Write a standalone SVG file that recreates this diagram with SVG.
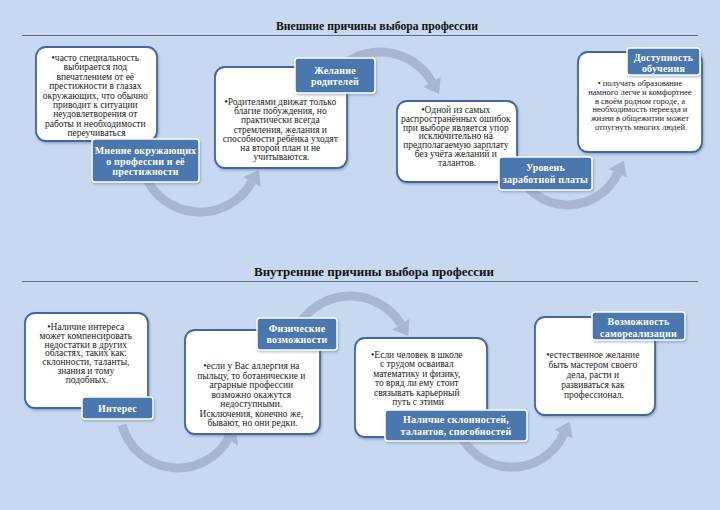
<svg xmlns="http://www.w3.org/2000/svg" width="720" height="510" viewBox="0 0 720 510">
<defs>
<style>
.bg{fill:#c6d9f1}
.title{font-family:"Liberation Serif","Times New Roman",serif;font-weight:bold;font-size:12px;fill:#111;text-anchor:middle}
.rule{stroke:#5a6c88;stroke-width:1.2}
.box{fill:#fff;stroke:#44669a;stroke-width:1.8}
.lab{fill:#4a77ae;stroke:#fff;stroke-width:1.5}
.body{font-family:"Liberation Serif","Times New Roman",serif;font-size:9.5px;fill:#1a1a1a;text-anchor:middle}
.small{font-size:8.5px}
.lt{font-family:"Liberation Serif","Times New Roman",serif;font-weight:bold;font-size:10px;letter-spacing:0.2px;fill:#fff;text-anchor:middle}
.arc{fill:none;stroke:#a8b7d1;stroke-width:9}
.head{fill:#a8b7d1}
</style>
<filter id="sh" x="-10%" y="-10%" width="130%" height="130%">
<feDropShadow dx="1" dy="1.5" stdDeviation="1.2" flood-color="#54698a" flood-opacity="0.45"/>
</filter>
</defs>
<rect class="bg" x="0" y="0" width="720" height="510"/>

<text class="title" x="377" y="30" textLength="202" lengthAdjust="spacingAndGlyphs">Внешние причины выбора профессии</text>
<line class="rule" x1="22" y1="35.5" x2="698" y2="35.5"/>
<text class="title" x="374" y="276" textLength="240" lengthAdjust="spacingAndGlyphs">Внутренние причины выбора профессии</text>
<line class="rule" x1="22" y1="281.5" x2="698" y2="281.5"/>

<g id="connectors">
<path class="arc" d="M143.6,172.5 A60,60 0 0 0 252,182"/>
<polygon class="head" points="259,169.9 260.7,187 243.3,177"/>
<path class="arc" d="M330.9,77.6 A60,60 0 0 1 432,82"/>
<polygon class="head" points="439,94 440.7,77 423.3,87"/>
<path class="arc" d="M516.3,168.8 A55,55 0 0 0 617.8,173.2"/>
<polygon class="head" points="623.7,160.5 626.9,177.4 608.7,169"/>
<path class="arc" d="M122,425 A58,58 0 0 0 229.2,437.2"/>
<polygon class="head" points="235.8,424.8 238,446 220.4,432.4"/>
<path class="arc" d="M300.9,321.6 A60,60 0 0 1 400.9,324.2"/>
<polygon class="head" points="408.3,336.1 409.4,318.9 392.4,329.5"/>
<path class="arc" d="M458.4,429.5 A57,57 0 0 0 563.7,434.1"/>
<polygon class="head" points="569.6,421.4 572.8,438.3 554.6,429.9"/>
</g>

<g id="node-opinion">
<rect class="box" x="36" y="47" width="121" height="94" rx="10" filter="url(#sh)"/>
<text class="body">
<tspan x="96.5" y="61">•часто специальность</tspan>
<tspan x="96.5" y="70.4">выбирается под</tspan>
<tspan x="96.5" y="79.8">впечатлением от её</tspan>
<tspan x="96.5" y="89.2">престижности в глазах</tspan>
<tspan x="96.5" y="98.6">окружающих, что обычно</tspan>
<tspan x="96.5" y="108">приводит к ситуации</tspan>
<tspan x="96.5" y="117.4">неудовлетворения от</tspan>
<tspan x="96.5" y="126.8">работы и необходимости</tspan>
<tspan x="96.5" y="136.2">переучиваться</tspan>
</text>
<rect class="lab" x="92" y="139" width="107" height="43" rx="3" filter="url(#sh)"/>
<text class="lt"><tspan x="145.5" y="154">Мнение окружающих</tspan><tspan x="145.5" y="164.5">о профессии и её</tspan><tspan x="145.5" y="175">престижности</tspan></text>
</g>

<g id="node-parents">
<rect class="box" x="215" y="67" width="132" height="101" rx="10" filter="url(#sh)"/>
<text class="body">
<tspan x="281.5" y="105">•Родителями движат только</tspan>
<tspan x="281.5" y="114.2">благие побуждения, но</tspan>
<tspan x="281.5" y="123.4">практически всегда</tspan>
<tspan x="281.5" y="132.6">стремления, желания и</tspan>
<tspan x="281.5" y="141.8">способности ребёнка уходят</tspan>
<tspan x="281.5" y="151">на второй план и не</tspan>
<tspan x="281.5" y="160.2">учитываются.</tspan>
</text>
<rect class="lab" x="295" y="58" width="80" height="35" rx="3" filter="url(#sh)"/>
<text class="lt"><tspan x="335" y="73.5">Желание</tspan><tspan x="335" y="84.5">родителей</tspan></text>
</g>

<g id="node-salary">
<rect class="box" x="397" y="101" width="120" height="81" rx="10" filter="url(#sh)"/>
<text class="body">
<tspan x="457" y="113">•Одной из самых</tspan>
<tspan x="457" y="121.8">распространённых ошибок</tspan>
<tspan x="457" y="130.6">при выборе является упор</tspan>
<tspan x="457" y="139.4">исключительно на</tspan>
<tspan x="457" y="148.2">предполагаемую зарплату</tspan>
<tspan x="457" y="157">без учёта желаний и</tspan>
<tspan x="457" y="165.8">талантов.</tspan>
</text>
<rect class="lab" x="499" y="157" width="93" height="33" rx="3" filter="url(#sh)"/>
<text class="lt"><tspan x="545.5" y="170.5">Уровень</tspan><tspan x="545.5" y="183">заработной платы</tspan></text>
</g>

<g id="node-access">
<rect class="box" x="578" y="52" width="124" height="100" rx="10" filter="url(#sh)"/>
<text class="body small">
<tspan x="641" y="86">• получать образование</tspan>
<tspan x="641" y="94.8">намного легче и комфортнее</tspan>
<tspan x="641" y="103.6">в своём родном городе, а</tspan>
<tspan x="641" y="112.4">необходимость переезда и</tspan>
<tspan x="641" y="121.2">жизни в общежитии может</tspan>
<tspan x="641" y="130">отпугнуть многих людей.</tspan>
</text>
<rect class="lab" x="627" y="48" width="73" height="27" rx="3" filter="url(#sh)"/>
<text class="lt"><tspan x="663.5" y="60.5">Доступность</tspan><tspan x="663.5" y="71.5">обучения</tspan></text>
</g>

<g id="node-interest">
<rect class="box" x="25" y="313" width="123" height="95" rx="10" filter="url(#sh)"/>
<text class="body">
<tspan x="87" y="330">•Наличие интереса</tspan>
<tspan x="87" y="338.8">может компенсировать</tspan>
<tspan x="87" y="347.6">недостатки в других</tspan>
<tspan x="87" y="356.4">областях, таких как:</tspan>
<tspan x="87" y="365.2">склонности, таланты,</tspan>
<tspan x="87" y="374">знания и тому</tspan>
<tspan x="87" y="382.8">подобных.</tspan>
</text>
<rect class="lab" x="82" y="397" width="71" height="22" rx="3" filter="url(#sh)"/>
<text class="lt"><tspan x="117.5" y="411.5">Интерес</tspan></text>
</g>

<g id="node-physical">
<rect class="box" x="185" y="330" width="135" height="104" rx="10" filter="url(#sh)"/>
<text class="body">
<tspan x="252.5" y="369">•если у Вас аллергия на</tspan>
<tspan x="252.5" y="378.5">пыльцу, то ботанические и</tspan>
<tspan x="252.5" y="388">аграрные профессии</tspan>
<tspan x="252.5" y="397.5">возможно окажутся</tspan>
<tspan x="252.5" y="407">недоступными.</tspan>
<tspan x="252.5" y="416.5">Исключения, конечно же,</tspan>
<tspan x="252.5" y="426">бывают, но они редки.</tspan>
</text>
<rect class="lab" x="257" y="318" width="80" height="32" rx="3" filter="url(#sh)"/>
<text class="lt"><tspan x="297" y="332">Физические</tspan><tspan x="297" y="343">возможности</tspan></text>
</g>

<g id="node-talents">
<rect class="box" x="355" y="338" width="132" height="99" rx="10" filter="url(#sh)"/>
<text class="body">
<tspan x="418" y="358">•Если человек в школе</tspan>
<tspan x="418" y="367.4">с трудом осваивал</tspan>
<tspan x="418" y="376.8">математику и физику,</tspan>
<tspan x="418" y="386.2">то вряд ли ему стоит</tspan>
<tspan x="418" y="395.6">связывать карьерный</tspan>
<tspan x="418" y="405">путь с этими</tspan>
</text>
<rect class="lab" x="385" y="410" width="142" height="31" rx="3" filter="url(#sh)"/>
<text class="lt"><tspan x="456" y="422.5">Наличие склонностей,</tspan><tspan x="456" y="435">талантов, способностей</tspan></text>
</g>

<g id="node-selfreal">
<rect class="box" x="535" y="317" width="120" height="98" rx="10" filter="url(#sh)"/>
<text class="body">
<tspan x="594" y="358">•естественное желание</tspan>
<tspan x="594" y="368">быть мастером своего</tspan>
<tspan x="594" y="378">дела, расти и</tspan>
<tspan x="594" y="388">развиваться как</tspan>
<tspan x="594" y="398">профессионал.</tspan>
</text>
<rect class="lab" x="592" y="312" width="93" height="28" rx="3" filter="url(#sh)"/>
<text class="lt"><tspan x="638.5" y="325">Возможность</tspan><tspan x="638.5" y="336.5">самореализации</tspan></text>
</g>
</svg>
